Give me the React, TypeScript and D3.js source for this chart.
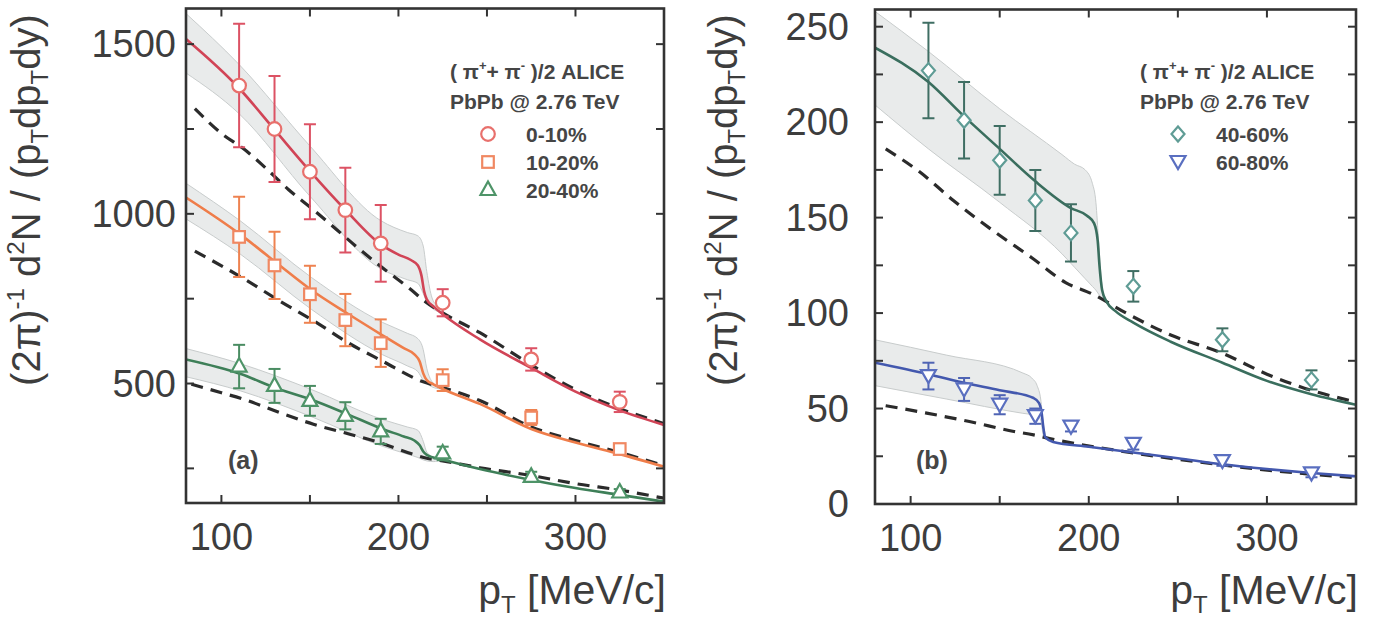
import React from "react";
import * as d3 from "d3";

type Pt = [number, number];
type BandPt = [number, number, number];
type Marker = "circle" | "square" | "triangle" | "diamond" | "triDown";

// measured bin centres (MeV/c)
const pT = [110, 130, 150, 170, 190, 225, 275, 325];

const xTicks = [100, 150, 200, 250, 300];
const xTickLabels = [100, 200, 300];
const yTicksA = [250, 500, 750, 1000, 1250, 1500];
const yTickLabelsA = [500, 1000, 1500];
const yTicksB = [0, 25, 50, 75, 100, 125, 150, 175, 200, 225, 250];
const yTickLabelsB = [0, 50, 100, 150, 200, 250];

// ALICE (pi+ + pi-)/2 yields and errors per centrality class
const y0_10 = [1378, 1250, 1124, 1011, 913, 738, 571, 446];
const e0_10 = [182, 156, 140, 125, 113, 40, 33, 30];
const y10_20 = [932, 848, 763, 687, 619, 510, 400, 307];
const e10_20 = [118, 99, 84, 77, 70, 32, 22, 15];
const y20_40 = [550, 493, 449, 405, 359, 294, 225, 179];
const e20_40 = [64, 50, 44, 40, 37, 20, 15, 10];
const y40_60 = [227, 201, 180, 159, 142, 114, 86, 65];
const e40_60 = [25, 20, 18, 16, 15, 8, 6, 5];
const y60_80 = [67, 60, 52, 46, 40.5, 31.5, 22.5, 16];
const e60_80 = [7, 6, 5, 4, 2.5, 3, 2.5, 2];

// model spectra (solid), reference spectra (dashed) and model uncertainty bands [pT, low, high]
const model0_10: Pt[] = [[80, 1515], [110, 1370], [130, 1248], [150, 1126], [170, 1012], [190, 910], [200, 880], [207, 864], [211, 848], [213, 818], [214.5, 772], [216, 748], [220, 726], [225, 704], [246, 630], [275, 546], [300, 476], [325, 421], [350, 378]];
const ideal0_10: Pt[] = [[85, 1310], [101, 1233], [112, 1194], [125, 1135], [138, 1071], [151, 1016], [165, 954], [177, 900], [191, 841], [207, 777], [215, 742], [225, 708], [246, 650], [275, 555], [300, 482], [325, 426], [350, 382]];
const band0_10: BandPt[] = [[80, 1415, 1590], [110, 1295, 1440], [150, 1052, 1200], [190, 838, 980], [205, 806, 945], [211, 795, 935], [214, 765, 905], [216, 740, 830], [219, 722, 752], [223, 710, 722], [228, 694, 694]];

const model10_20: Pt[] = [[80, 1048], [111, 938], [131, 856], [151, 775], [171, 707], [191, 642], [203, 604], [209, 586], [212, 565], [214, 530], [216, 510], [220, 497], [225, 484], [246, 440], [275, 366], [300, 326], [325, 292], [350, 255]];
const ideal10_20: Pt[] = [[85, 890], [112, 811], [133, 743], [154, 679], [170, 625], [191, 566], [214, 505], [225, 488], [246, 450], [275, 372], [300, 332], [325, 297], [350, 258]];
const band10_20: BandPt[] = [[80, 985, 1090], [111, 880, 978], [151, 718, 812], [191, 585, 680], [205, 552, 648], [211, 535, 632], [214, 510, 600], [216, 500, 545], [219, 490, 505], [224, 484, 486]];

const model20_40: Pt[] = [[80, 571], [111, 528], [131, 486], [151, 452], [171, 410], [191, 366], [203, 344], [209, 332], [212, 318], [214, 300], [216, 290], [225, 276], [246, 248], [275, 216], [300, 192], [325, 172], [350, 152]];
const ideal20_40: Pt[] = [[83, 498], [100, 473], [113, 453], [133, 414], [152, 380], [173, 350], [190, 325], [208, 292], [216, 280], [225, 272], [246, 252], [275, 229], [300, 205], [325, 186], [350, 162]];
const band20_40: BandPt[] = [[80, 520, 603], [111, 478, 558], [151, 402, 482], [191, 315, 394], [205, 292, 372], [211, 282, 362], [214, 275, 330], [216, 272, 298], [220, 270, 282], [224, 276, 278]];

const model40_60: Pt[] = [[80, 239], [110, 221], [130, 203], [150, 186], [170, 169], [190, 155], [199, 151], [203, 147], [205, 138], [206, 125], [207.5, 112], [210, 106], [215, 101], [225, 95], [246, 85], [275, 74], [300, 64.5], [325, 57.5], [350, 52]];
const ideal40_60: Pt[] = [[86, 186], [105, 174], [124, 159], [148, 142], [168, 129], [187, 116], [202, 110], [221, 100], [246, 88.5], [275, 79], [300, 68], [325, 59.5], [350, 53.5]];
const band40_60: BandPt[] = [[80, 209, 258], [110, 186, 237], [150, 158, 207], [185, 131, 183], [192, 124, 178], [198, 118, 175], [202, 114, 168], [204, 112, 158], [205.5, 110, 138], [207, 108, 118], [209, 106, 108]];

const model60_80: Pt[] = [[80, 74], [110, 68], [130, 63.5], [150, 59.6], [169, 55.5], [172, 53], [173.5, 48], [174.5, 40], [175.5, 35], [180, 32.5], [200, 30], [225, 27], [250, 24], [275, 20.8], [300, 18.3], [325, 16.2], [350, 14.5]];
const ideal60_80: Pt[] = [[86, 51.5], [109, 47.6], [133, 43.2], [158, 38], [169, 36.2], [180, 33.9], [214, 28.3], [251, 23.3], [289, 18.9], [326, 15.5], [350, 13.8]];
const band60_80: BandPt[] = [[80, 62, 86], [120, 55, 78], [163, 47.5, 68.6], [168, 46.8, 66], [171, 46, 62], [173, 44, 55], [174.5, 36, 42], [176, 34, 35]];

interface Series {
  label: string;
  y: number[];
  err: number[];
  marker: Marker;
  markColor: string;
  errColor: string;
  lineColor: string;
  model: Pt[];
  ideal: Pt[];
  band: BandPt[];
}

const seriesA: Series[] = [
  { label: "0-10%", y: y0_10, err: e0_10, marker: "circle", markColor: "#e8706c", errColor: "#dc5264", lineColor: "#d14456", model: model0_10, ideal: ideal0_10, band: band0_10 },
  { label: "10-20%", y: y10_20, err: e10_20, marker: "square", markColor: "#f08862", errColor: "#ee8250", lineColor: "#ef7d4a", model: model10_20, ideal: ideal10_20, band: band10_20 },
  { label: "20-40%", y: y20_40, err: e20_40, marker: "triangle", markColor: "#4e9468", errColor: "#4a8c62", lineColor: "#3e7f58", model: model20_40, ideal: ideal20_40, band: band20_40 },
];

const seriesB: Series[] = [
  { label: "40-60%", y: y40_60, err: e40_60, marker: "diamond", markColor: "#5f9c95", errColor: "#3f6e63", lineColor: "#3a6e5e", model: model40_60, ideal: ideal40_60, band: band40_60 },
  { label: "60-80%", y: y60_80, err: e60_80, marker: "triDown", markColor: "#5a6fc0", errColor: "#4f64b4", lineColor: "#4358ae", model: model60_80, ideal: ideal60_80, band: band60_80 },
];

const FONT = "'Liberation Sans', Arial, Helvetica, sans-serif";
const INK = "#3d3d3d";

function MarkerShape({ type, cx, cy, color }: { type: Marker; cx: number; cy: number; color: string }) {
  const common = { fill: "#fff", stroke: color, strokeWidth: 2.2 };
  switch (type) {
    case "circle":
      return <circle cx={cx} cy={cy} r={6.8} {...common} />;
    case "square":
      return <rect x={cx - 5.8} y={cy - 5.8} width={11.6} height={11.6} {...common} />;
    case "triangle":
      return <polygon points={`${cx},${cy - 8.5} ${cx + 7.5},${cy + 5} ${cx - 7.5},${cy + 5}`} {...common} />;
    case "diamond":
      return <polygon points={`${cx},${cy - 7.5} ${cx + 6.5},${cy} ${cx},${cy + 7.5} ${cx - 6.5},${cy}`} {...common} />;
    case "triDown":
      return <polygon points={`${cx - 7.5},${cy - 6} ${cx + 7.5},${cy - 6} ${cx},${cy + 7}`} {...common} />;
  }
}

interface PanelProps {
  id: string;
  x: d3.ScaleLinear<number, number>;
  y: d3.ScaleLinear<number, number>;
  yTicks: number[];
  yLabels: number[];
  yLabelX: number;
  titleX: number;
  series: Series[];
  legendX: number;
  tag: string;
  tagX: number;
}

function Panel({ id, x, y, yTicks, yLabels, yLabelX, titleX, series, legendX, tag, tagX }: PanelProps) {
  const [x0, x1] = x.range();
  const [y0, y1] = y.range();
  const line = d3.line<Pt>().x((d) => x(d[0])).y((d) => y(d[1])).curve(d3.curveMonotoneX);
  const area = d3
    .area<BandPt>()
    .x((d) => x(d[0]))
    .y0((d) => y(d[1]))
    .y1((d) => y(d[2]))
    .curve(d3.curveMonotoneX);
  const lo = d3.line<BandPt>().x((d) => x(d[0])).y((d) => y(d[1])).curve(d3.curveMonotoneX);
  const hi = d3.line<BandPt>().x((d) => x(d[0])).y((d) => y(d[2])).curve(d3.curveMonotoneX);
  const tl = 8;

  return (
    <g fontFamily={FONT}>
      <defs>
        <clipPath id={`clip-${id}`}>
          <rect x={x0} y={y1} width={x1 - x0} height={y0 - y1} />
        </clipPath>
      </defs>

      <g clipPath={`url(#clip-${id})`}>
        {series.map((s) => (
          <g key={`band-${s.label}`}>
            <path d={area(s.band) ?? ""} fill="#e7e9e9" opacity={0.9} />
            <path d={lo(s.band) ?? ""} fill="none" stroke="#c8cccc" strokeWidth={1} />
            <path d={hi(s.band) ?? ""} fill="none" stroke="#c8cccc" strokeWidth={1} />
          </g>
        ))}
        {series.map((s) => (
          <path key={`ideal-${s.label}`} d={line(s.ideal) ?? ""} fill="none" stroke="#2b2b2b" strokeWidth={3.2} strokeDasharray="12 8" />
        ))}
        {series.map((s) => (
          <path key={`model-${s.label}`} d={line(s.model) ?? ""} fill="none" stroke={s.lineColor} strokeWidth={2.6} />
        ))}
        {series.map((s) => (
          <g key={`pts-${s.label}`}>
            {pT.map((p, i) => {
              const cx = x(p);
              const top = y(s.y[i] + s.err[i]);
              const bot = y(s.y[i] - s.err[i]);
              return (
                <g key={i} stroke={s.errColor} strokeWidth={2}>
                  <line x1={cx} x2={cx} y1={top} y2={bot} />
                  <line x1={cx - 6} x2={cx + 6} y1={top} y2={top} />
                  <line x1={cx - 6} x2={cx + 6} y1={bot} y2={bot} />
                </g>
              );
            })}
            {pT.map((p, i) => (
              <MarkerShape key={`m${i}`} type={s.marker} cx={x(p)} cy={y(s.y[i])} color={s.markColor} />
            ))}
          </g>
        ))}
      </g>

      {/* ticks on all four sides */}
      <g stroke="#333" strokeWidth={2}>
        {xTicks.map((t) => (
          <g key={`xt${t}`}>
            <line x1={x(t)} x2={x(t)} y1={y0} y2={y0 - tl} />
            <line x1={x(t)} x2={x(t)} y1={y1} y2={y1 + tl} />
          </g>
        ))}
        {yTicks.map((t) => (
          <g key={`yt${t}`}>
            <line x1={x0} x2={x0 + tl} y1={y(t)} y2={y(t)} />
            <line x1={x1} x2={x1 - tl} y1={y(t)} y2={y(t)} />
          </g>
        ))}
      </g>
      <rect x={x0} y={y1} width={x1 - x0} height={y0 - y1} fill="none" stroke="#333" strokeWidth={2.6} />

      {/* tick labels */}
      {xTickLabels.map((t) => (
        <text key={`xl${t}`} x={x(t)} y={y0 + 47} textAnchor="middle" fontSize={38} fill={INK}>
          {t}
        </text>
      ))}
      {yLabels.map((t) => (
        <text key={`yl${t}`} x={yLabelX} y={y(t) + 13} textAnchor="end" fontSize={38} fill={INK}>
          {t}
        </text>
      ))}

      {/* axis titles */}
      <text x={x1 + 2} y={604} textAnchor="end" fontSize={41} fill={INK}>
        p<tspan dy={9} fontSize={24}>T</tspan>
        <tspan dy={-9}> [MeV/c]</tspan>
      </text>
      <text transform={`translate(${titleX},200) rotate(-90)`} textAnchor="middle" fontSize={40} fill={INK}>
        (2π)<tspan dy={-16} fontSize={24}>-1</tspan>
        <tspan dy={16}> d</tspan>
        <tspan dy={-16} fontSize={24}>2</tspan>
        <tspan dy={16}>N / (p</tspan>
        <tspan dy={8} fontSize={24}>T</tspan>
        <tspan dy={-8}>dp</tspan>
        <tspan dy={8} fontSize={24}>T</tspan>
        <tspan dy={-8}>dy)</tspan>
      </text>

      {/* legend */}
      <g fill="#454545" fontWeight="bold" fontSize={21}>
        <text x={legendX} y={79}>
          ( π<tspan dy={-9} fontSize={13}>+</tspan>
          <tspan dy={9}>+ π</tspan>
          <tspan dy={-9} fontSize={13}>-</tspan>
          <tspan dy={9}> )/2 ALICE</tspan>
        </text>
        <text x={legendX} y={109}>PbPb @ 2.76 TeV</text>
        {series.map((s, i) => (
          <g key={`lg${s.label}`}>
            <MarkerShape type={s.marker} cx={legendX + 38} cy={134 + i * 28} color={s.markColor} />
            <text x={legendX + 76} y={142 + i * 28}>
              {s.label}
            </text>
          </g>
        ))}
      </g>

      <text x={tagX} y={469} fontSize={25} fontWeight="bold" fill="#454545">
        {tag}
      </text>
    </g>
  );
}

export default function App() {
  const xA = d3.scaleLinear().domain([80, 350]).range([186, 664]);
  const yA = d3.scaleLinear().domain([148, 1605]).range([503, 8.5]);
  const xB = d3.scaleLinear().domain([80, 350]).range([875, 1356]);
  const yB = d3.scaleLinear().domain([0, 259]).range([504, 9.5]);

  return (
    <svg
      width={1375}
      height={619}
      viewBox="0 0 1375 619"
      style={{ position: "absolute", left: 0, top: 0, display: "block", background: "#fff" }}
    >
      <rect width={1375} height={619} fill="#fff" />
      <Panel id="a" x={xA} y={yA} yTicks={yTicksA} yLabels={yTickLabelsA} yLabelX={176} titleX={40} series={seriesA} legendX={450} tag="(a)" tagX={228} />
      <Panel id="b" x={xB} y={yB} yTicks={yTicksB} yLabels={yTickLabelsB} yLabelX={849} titleX={737} series={seriesB} legendX={1140} tag="(b)" tagX={916} />
    </svg>
  );
}
